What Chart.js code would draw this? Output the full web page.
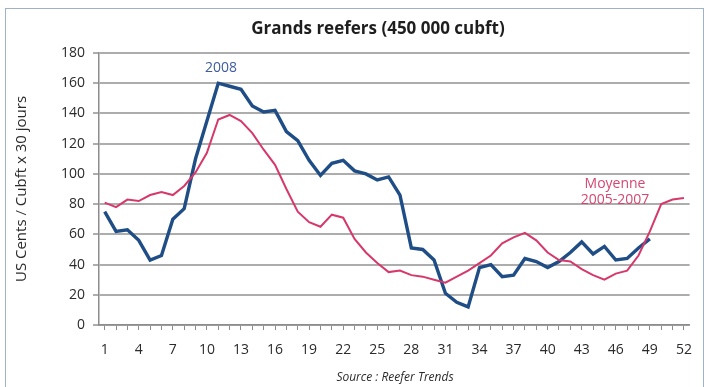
<!DOCTYPE html>
<html>
<head>
    <title>Grands reefers</title>
    <script src="https://cdn.jsdelivr.net/npm/chart.js@4/dist/chart.umd.min.js"></script>
    <style>
        body {
            margin: 0;
            background: #ffffff;
            font-family: "Open Sans", Arial, sans-serif;
        }

        #wrap {
            width: 704px;
            height: 387px;
        }
    </style>
</head>
<body>
    <div id="wrap">
        <canvas id="reeferChart" width="704" height="387"></canvas>
    </div>

    <script>
        // semaines 1 a 52
        const weeks = ['1', '2', '3', '4', '5', '6', '7', '8', '9', '10', '11', '12', '13',
            '14', '15', '16', '17', '18', '19', '20', '21', '22', '23', '24', '25', '26',
            '27', '28', '29', '30', '31', '32', '33', '34', '35', '36', '37', '38', '39',
            '40', '41', '42', '43', '44', '45', '46', '47', '48', '49', '50', '51', '52'];

        // 2008 (s'arrete a la semaine 49)
        const rates2008 = [75, 62, 63, 56, 43, 46, 70, 77, 110, 135, 160, 158, 156,
            145, 141, 142, 128, 122, 109, 99, 107, 109, 102, 100, 96, 98,
            86, 51, 50, 43, 21, 15, 12, 38, 40, 32, 33, 44, 42,
            38, 42, 48, 55, 47, 52, 43, 44, 51, 57];

        // moyenne 2005-2007
        const ratesAvg = [81, 78, 83, 82, 86, 88, 86, 92, 101, 114, 136, 139, 135,
            127, 116, 106, 90, 75, 68, 65, 73, 71, 57, 48, 41, 35,
            36, 33, 32, 30, 28, 32, 36, 41, 46, 54, 58, 61, 56,
            48, 43, 42, 37, 33, 30, 34, 36, 46, 62, 80, 83, 84];

        const yMin = 0;
        const yMax = 180;
        const yStep = 20;

        const blue = '#1f4d86';
        const red = '#d6386a';
        const textColor = '#2b2b2b';
        const gridColor = '#adadad';
        const axisColor = '#8c8c8c';

        // titres, source, etiquettes des courbes et cadre
        const textPlugin = {
            id: 'textPlugin',
            afterDraw(chart) {
                const ctx = chart.ctx;
                ctx.save();

                ctx.strokeStyle = '#9fb2c8';
                ctx.lineWidth = 1;
                ctx.strokeRect(5.5, 8.5, 698, 390);

                ctx.textAlign = 'center';
                ctx.textBaseline = 'middle';

                ctx.fillStyle = '#1e1e1e';
                ctx.font = 'bold 17px "Open Sans"';
                ctx.fillText('Grands reefers (450 000 cubft)', 378, 29);

                ctx.fillStyle = textColor;
                ctx.font = 'italic 12px "Open Sans"';
                ctx.fillText('Source : Reefer Trends', 395, 378);

                ctx.fillStyle = '#3d5d9c';
                ctx.font = '14px "Open Sans"';
                ctx.fillText('2008', 221, 68);

                ctx.fillStyle = '#d4486f';
                ctx.fillText('Moyenne', 615, 184);
                ctx.fillText('2005-2007', 615, 200);

                ctx.translate(22, 189);
                ctx.rotate(-Math.PI / 2);
                ctx.fillStyle = textColor;
                ctx.font = '15px "Open Sans"';
                ctx.fillText('US Cents / Cubft x 30 jours', 0, 0);

                ctx.restore();
            }
        };

        const ctx = document.getElementById('reeferChart').getContext('2d');

        new Chart(ctx, {
            type: 'line',
            data: {
                labels: weeks,
                datasets: [{
                    label: 'Moyenne 2005-2007',
                    data: ratesAvg,
                    borderColor: red,
                    borderWidth: 2,
                    pointRadius: 0,
                    tension: 0
                }, {
                    label: '2008',
                    data: rates2008,
                    borderColor: blue,
                    borderWidth: 3.4,
                    pointRadius: 0,
                    tension: 0
                }]
            },
            options: {
                responsive: false,
                animation: false,
                layout: {
                    padding: { left: 8, right: 7, top: 53, bottom: 0 }
                },
                plugins: {
                    legend: { display: false },
                    tooltip: { enabled: false }
                },
                scales: {
                    x: {
                        offset: true,
                        afterFit: (scale) => { scale.height = 62; },
                        grid: {
                            drawOnChartArea: false,
                            drawTicks: true,
                            tickLength: 5,
                            color: axisColor,
                            lineWidth: 1
                        },
                        border: { display: true, color: axisColor, width: 1.5 },
                        ticks: {
                            autoSkip: false,
                            maxRotation: 0,
                            padding: 12,
                            color: textColor,
                            font: { family: 'Open Sans', size: 14 },
                            callback: function (value, index) {
                                return index % 3 === 0 ? this.getLabelForValue(value) : '';
                            }
                        }
                    },
                    y: {
                        min: yMin,
                        max: yMax,
                        afterFit: (scale) => { scale.width = 91; },
                        grid: {
                            color: gridColor,
                            lineWidth: 2,
                            tickLength: 6
                        },
                        border: { display: true, color: axisColor, width: 1.5 },
                        ticks: {
                            stepSize: yStep,
                            padding: 8,
                            color: textColor,
                            font: { family: 'Open Sans', size: 14 }
                        }
                    }
                }
            },
            plugins: [textPlugin]
        });
    </script>
</body>
</html>
